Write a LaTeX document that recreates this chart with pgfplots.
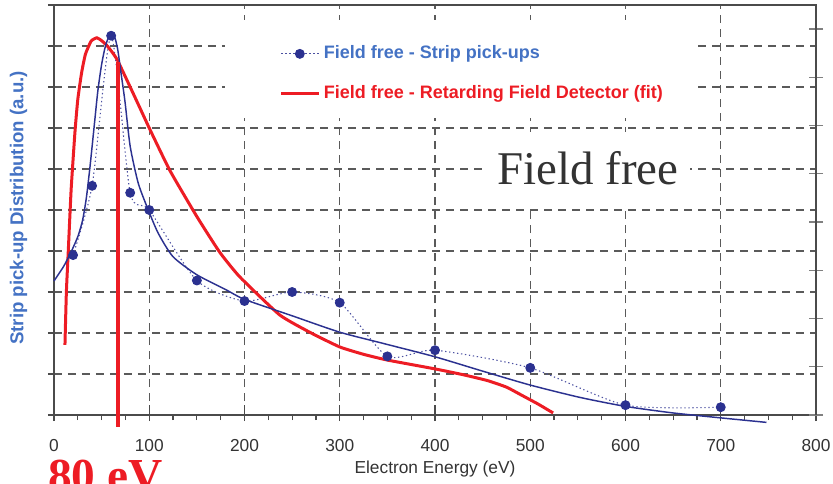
\documentclass[border=0pt]{standalone}
\usepackage{pgfplots}
\pgfplotsset{compat=1.18}
\usepackage{fontspec}
\setmainfont{Liberation Sans}
\newfontfamily\seriffont{Liberation Serif}
\definecolor{myred}{RGB}{237,28,36}
\definecolor{navy}{RGB}{43,49,144}
\definecolor{lblue}{RGB}{68,114,196}
\definecolor{txtgray}{RGB}{51,51,51}
\definecolor{gridgray}{RGB}{90,90,90}
\definecolor{axgray}{RGB}{75,75,75}
\begin{document}
\begin{tikzpicture}
\begin{axis}[
  at={(0,0)}, anchor=south west,
  scale only axis, width=571.5pt, height=307.5pt,
  xmin=0, xmax=800, ymin=0, ymax=10,
  clip=false,
  /pgf/number format/assume math mode=true,
  axis line style={axgray, line width=1pt},
  xtick={0,100,...,800},
  minor x tick num=3,
  ytick={0,1,...,10},
  yticklabels={},
  xtick pos=bottom, ytick pos=left,
  tick align=outside, major tick length=4.5pt, minor tick length=3.75pt,
  tick style={axgray, line width=0.9pt},
  extra x ticks={0,100,...,800}, extra x tick labels={},
  extra x tick style={grid=none, tick align=inside, major tick length=7.5pt},
  grid=major,
  major grid style={gridgray, line width=0.9pt, dash pattern=on 6pt off 4.5pt},
  xticklabel style={anchor=base, yshift=-22.5pt, text=txtgray, font=\fontsize{13}{15}\selectfont},
  xlabel={Electron Energy (eV)},
  xlabel style={at={(axis description cs:0.5,0)}, anchor=base, yshift=-43.5pt, text=txtgray, font=\fontsize{13}{15}\selectfont},
  ylabel={Strip pick-up Distribution (a.u.)},
  ylabel style={at={(axis description cs:-0.0465,0.505)}, anchor=center, text=lblue, font=\bfseries\fontsize{14}{16}\selectfont},
  legend cell align=left,
  legend image code/.code={\draw[mark repeat=2,mark phase=2,#1] plot coordinates {(0cm,0cm) (0.49cm,0cm) (0.98cm,0cm)};},
  legend style={at={(axis cs:237,9.02)}, anchor=north west, draw=none, fill=none, inner sep=0pt, outer sep=0pt,
    row sep=17pt, column sep=3pt, font=\bfseries\fontsize{13.5}{16}\selectfont,
    nodes={inner sep=0pt, text height=10pt, text depth=3pt}},
]
\fill[white] (axis cs:179.5,7.24) rectangle (axis cs:673,9.63);

\addplot[navy!85!white, line width=0.8pt, dash pattern=on 1pt off 2pt, smooth, tension=0.4,
  mark=*, mark size=3.3pt, mark options={solid, fill=navy, draw=navy}] coordinates {
  (20,3.90) (40,5.59) (60,9.25) (80,5.42) (100,5.00) (150,3.28) (200,2.78) (250,3.00)
  (300,2.74) (350,1.43) (400,1.58) (500,1.15) (600,0.24) (700,0.19)};
\addlegendentry{\textcolor{lblue}{Field free - Strip pick-ups}}

\addplot[myred, line width=2.25pt, smooth, tension=0.3] coordinates {
  (11.5,1.71) (13,3.0) (15,4.0) (18,5.5) (22,6.9) (25,7.7) (29,8.35) (33,8.8) (39,9.12)
  (45,9.2) (50,9.13) (56,9.0) (66,8.68) (83,7.85) (101,6.95) (122,5.95) (150,4.84)
  (174,3.97) (195,3.37) (237,2.44) (270,2.0) (300,1.66) (325,1.48) (350,1.34) (401,1.12)
  (430,0.98) (455,0.84) (475,0.68) (492,0.47) (508,0.27) (524,0.05)};
\addlegendentry{\textcolor{myred}{Field free - Retarding Field Detector (fit)}}

\addplot[navy, line width=1.1pt, smooth, tension=0.4, forget plot] coordinates {
  (0,3.27) (10,3.62) (18,3.98) (25,4.35) (30,4.75) (34,5.3) (38,6.1) (42,7.0) (46,7.9)
  (50,8.55) (54,9.0) (58,9.25) (61,9.3) (64,9.2) (67,8.9) (70,8.4) (74.5,7.65) (80,6.55)
  (88.5,5.65) (99,5.0) (109.5,4.43) (125,3.86) (150,3.42) (181,3.05) (200,2.82) (250,2.42)
  (300,2.02) (350,1.72) (400,1.42) (450,1.07) (500,0.73) (552,0.43) (600,0.21) (650,0.05)
  (700,-0.07) (748,-0.18)};

\addplot[myred, line width=3.4pt, forget plot] coordinates {(67,8.6) (67,-0.29)};

\node[anchor=base west, fill=white, inner xsep=9pt, inner ysep=15pt, text=txtgray,
  font=\seriffont\fontsize{35.2}{40}\selectfont] at (axis cs:452.5,5.61) {Field free};
\node[anchor=base west, inner sep=0pt, text=myred,
  font=\seriffont\bfseries\fontsize{35.5}{40}\selectfont] at (axis cs:-6.3,-1.86) {80 eV};
\end{axis}
\begin{axis}[
  at={(0,0)}, anchor=south west,
  scale only axis, width=571.5pt, height=307.5pt,
  xmin=0, xmax=800, ymin=0, ymax=8.497,
  axis x line=none, axis y line*=right,
  ytick={0,1,...,8}, yticklabels={},
  tick align=center, major tick length=10.5pt,
  tick style={gray, line width=0.9pt},
  axis line style={axgray, line width=1pt},
]
\addplot[draw=none] coordinates {(0,0)};
\end{axis}
\pgfresetboundingbox
\useasboundingbox (-40.5pt,-51pt) rectangle (584.25pt,311.25pt);
\end{tikzpicture}
\end{document}
